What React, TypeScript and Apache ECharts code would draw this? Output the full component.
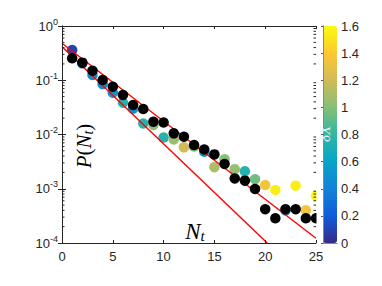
import React, { useEffect, useRef } from "react";
import * as echarts from "echarts";

const N = [1, 2, 3, 4, 5, 6, 7, 8, 9, 10, 11, 12, 13, 14, 15, 16, 17, 18, 19, 20, 21, 22, 23, 24, 25];
const pBlack = [0.254, 0.211, 0.15, 0.101, 0.076, 0.0535, 0.035, 0.0295, 0.0172, 0.0166, 0.0105, 0.0091, 0.0064, 0.0053, 0.0043, 0.00286, 0.00155, 0.00141, 0.00099, 0.00042, 0.000285, 0.00042, 0.00042, 0.000285, 0.000285];
const pColor = [0.361, 0.205, 0.125, 0.085, 0.059, 0.0386, 0.03, 0.016, 0.015, 0.0088, 0.0081, 0.0058, 0.006, 0.0048, 0.0025, 0.0035, 0.0023, 0.0021, 0.0015, 0.00117, 0.00095, 0.0004, 0.00114, 0.0004, 0.00074];
const deltaX = [0.1, 0.4, 0.45, 0.45, 0.5, 0.75, 0.5, 0.75, 1.0, 0.75, 1.05, 1.2, 0.95, 0.5, 1.1, 1.0, 1.05, 0.75, 0.95, 1.35, 1.55, 0.5, 1.55, 1.35, 1.6];
const fitUpper = [[0, 0.48], [25, 0.000122]];
const fitLower = [[0, 0.416], [20.2, 0.0001]];
const minorTicks = [2, 3, 4, 5, 6, 7, 8, 9].flatMap((k) => [1e-4, 1e-3, 1e-2, 1e-1].map((d) => k * d));
const parula = ["#352a87", "#0f5cdd", "#1481d6", "#06a4ca", "#2eb7a4", "#87bf77", "#d1bb59", "#fec832", "#f9fb0e"];

const AX = "#262626";
const SANS = "Liberation Sans";
const SERIF = "Liberation Serif";

export default function App() {
  const ref = useRef<HTMLDivElement>(null);
  useEffect(() => {
    const chart = echarts.init(ref.current!, null, { renderer: "svg" });
    const colored = N.map((n, i) => [n, pColor[i], deltaX[i]]);
    const black = N.map((n, i) => [n, pBlack[i]]);
    chart.setOption({
      animation: false,
      grid: [
        { left: 62, top: 26, width: 254, height: 217 },
        { left: 323, top: 26, width: 14, height: 217 },
      ],
      xAxis: [
        {
          type: "value", gridIndex: 0, min: 0, max: 25, interval: 5, z: 10,
          axisLine: { lineStyle: { color: AX, width: 1 } },
          axisTick: { inside: true, length: 3, lineStyle: { color: AX } },
          axisLabel: { color: AX, fontFamily: SANS, fontSize: 13, margin: 7 },
          splitLine: { show: false },
        },
        {
          type: "value", gridIndex: 0, min: 0, max: 25, interval: 5, position: "top", z: 10,
          axisLine: { show: true, lineStyle: { color: AX, width: 1 } },
          axisTick: { inside: true, length: 3, lineStyle: { color: AX } },
          axisLabel: { show: false },
          splitLine: { show: false },
        },
        {
          type: "value", gridIndex: 1, min: 0, max: 1, z: 10,
          axisLine: { show: true, lineStyle: { color: "#888", width: 1 } },
          axisTick: { show: false }, axisLabel: { show: false }, splitLine: { show: false },
        },
        {
          type: "value", gridIndex: 1, min: 0, max: 1, position: "top", z: 10,
          axisLine: { show: true, lineStyle: { color: "#888", width: 1 } },
          axisTick: { show: false }, axisLabel: { show: false }, splitLine: { show: false },
        },
      ],
      yAxis: [
        {
          type: "log", gridIndex: 0, min: 0.0001, max: 1, logBase: 10, z: 10,
          axisLine: { show: true, lineStyle: { color: AX, width: 1 } },
          axisTick: { inside: true, length: 4, lineStyle: { color: AX } },
          axisLabel: {
            color: AX, margin: 4,
            formatter: (v: number) => `{b|10}{s|${Math.round(Math.log10(v))}}`,
            rich: {
              b: { fontFamily: SANS, fontSize: 13, color: AX, lineHeight: 18 },
              s: { fontFamily: SANS, fontSize: 9, color: AX, lineHeight: 9, verticalAlign: "top" },
            },
          },
          splitLine: { show: false },
        },
        {
          type: "log", gridIndex: 0, min: 0.0001, max: 1, logBase: 10, position: "right", z: 10,
          axisLine: { show: true, lineStyle: { color: AX, width: 1 } },
          axisTick: { inside: true, length: 4, lineStyle: { color: AX } },
          axisLabel: { show: false },
          splitLine: { show: false },
        },
        {
          type: "value", gridIndex: 1, min: 0, max: 1.6, interval: 0.2, position: "right", z: 10,
          axisLine: { show: true, lineStyle: { color: "#888", width: 1 } },
          axisTick: { inside: true, length: 2, lineStyle: { color: "#555" } },
          axisLabel: {
            color: AX, fontFamily: SANS, fontSize: 13, margin: 4,
            formatter: (v: number) => String(Math.round(v * 10) / 10),
          },
          splitLine: { show: false },
        },
        {
          type: "value", gridIndex: 1, min: 0, max: 1.6, interval: 0.2, position: "left", z: 10,
          axisLine: { show: true, lineStyle: { color: "#888", width: 1 } },
          axisTick: { show: false }, axisLabel: { show: false }, splitLine: { show: false },
        },
      ],
      visualMap: {
        type: "continuous", min: 0, max: 1.6, dimension: 2, seriesIndex: [0],
        inRange: { color: parula }, calculable: false, showLabel: false, text: null,
        orient: "vertical", left: 323, top: 26, itemWidth: 14, itemHeight: 217, padding: 0,
        hoverLink: false,
      },
      series: [
        {
          type: "scatter", xAxisIndex: 0, yAxisIndex: 0, data: colored, symbolSize: 10.5, z: 2,
          itemStyle: { opacity: 1 },
        },
        {
          type: "line", xAxisIndex: 0, yAxisIndex: 0, data: fitUpper, symbol: "none", z: 3,
          lineStyle: { color: "#ff0000", width: 1.4 },
        },
        {
          type: "line", xAxisIndex: 0, yAxisIndex: 0, data: fitLower, symbol: "none", z: 3,
          lineStyle: { color: "#ff0000", width: 1.4 },
        },
        {
          type: "scatter", xAxisIndex: 0, yAxisIndex: 0, data: black, symbolSize: 10.5, z: 4,
          itemStyle: { color: "#000", opacity: 1 },
        },
        {
          type: "custom", xAxisIndex: 0, yAxisIndex: 0, z: 11, clip: false,
          data: minorTicks.map((v) => [0, v]),
          encode: { x: 0, y: 1 },
          renderItem: (params: any, api: any) => {
            const v = api.value(1);
            const p0 = api.coord([0, v]);
            const p1 = api.coord([25, v]);
            return {
              type: "group",
              children: [
                { type: "line", shape: { x1: p0[0], y1: p0[1], x2: p0[0] + 2.5, y2: p0[1] }, style: { stroke: AX, lineWidth: 1 } },
                { type: "line", shape: { x1: p1[0] - 2.5, y1: p1[1], x2: p1[0], y2: p1[1] }, style: { stroke: AX, lineWidth: 1 } },
              ],
            };
          },
        },
      ],
      graphic: [
        { type: "rect", z: 8, shape: { x: 316.5, y: 20, width: 6, height: 230 }, style: { fill: "#fff" } },
        {
          type: "text", x: 84, y: 146, rotation: Math.PI / 2, z: 12,
          style: {
            text: "{i|P}{n|(}{i|N}{t|t}{n|)}",
            align: "center", verticalAlign: "middle",
            rich: {
              i: { fontFamily: SERIF, fontStyle: "italic", fontSize: 21, fill: "#000", lineHeight: 22 },
              n: { fontFamily: SERIF, fontSize: 21, fill: "#000", lineHeight: 22 },
              t: { fontFamily: SERIF, fontStyle: "italic", fontSize: 14, fill: "#000", verticalAlign: "bottom", lineHeight: 17 },
            },
          },
        },
        {
          type: "text", x: 195, y: 231, z: 12,
          style: {
            text: "{i|N}{t|t}",
            align: "center", verticalAlign: "middle",
            rich: {
              i: { fontFamily: SERIF, fontStyle: "italic", fontSize: 23, fill: "#000", lineHeight: 24 },
              t: { fontFamily: SERIF, fontStyle: "italic", fontSize: 15, fill: "#000", verticalAlign: "bottom", lineHeight: 18 },
            },
          },
        },
        {
          type: "text", x: 325, y: 134, rotation: Math.PI / 2, z: 12,
          style: {
            text: "δX", align: "center", verticalAlign: "middle",
            fontFamily: SERIF, fontStyle: "italic", fontSize: 15, fill: "#e8f4f4",
          },
        },
      ],
    });
    return () => chart.dispose();
  }, []);
  return <div ref={ref} style={{ position: "absolute", left: 0, top: 0, width: 382, height: 286 }} />;
}
